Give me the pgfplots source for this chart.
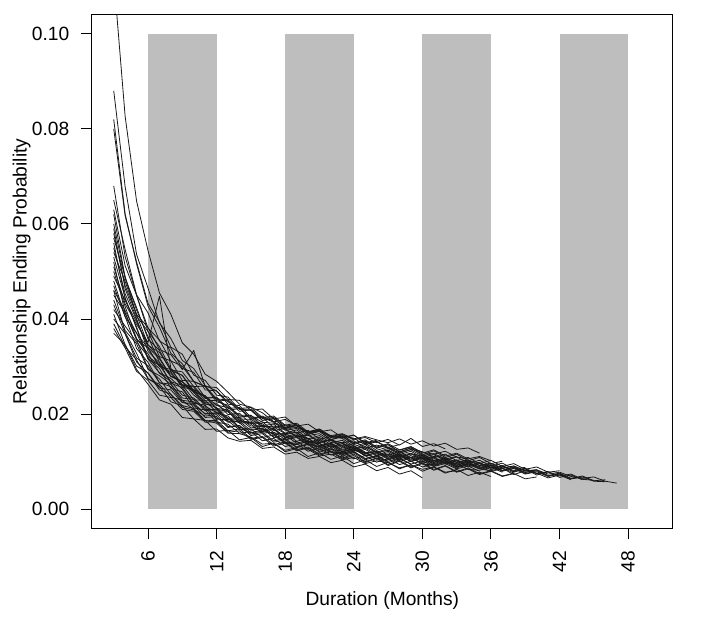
\documentclass[border=0pt]{standalone}
\usepackage{fontspec}
\setmainfont{Liberation Sans}
\usepackage{pgfplots}
\pgfplotsset{compat=1.18}
\definecolor{rectgray}{RGB}{190,190,190}
\begin{document}
\begin{tikzpicture}
\path[use as bounding box] (-92bp,-92.7bp) rectangle (628bp,528.3bp);
\begin{axis}[
  at={(0,0)}, anchor=south west,
  scale only axis, width=580.7bp, height=513.6bp,
  xmin=1.1, xmax=51.9, ymin=-0.004, ymax=0.104,
  axis line style={line width=1bp, black},
  tick style={black, line width=1bp},
  tick align=outside, major tick length=11bp,
  xtick pos=bottom, ytick pos=left,
  xtick={6,12,18,24,30,36,42,48},
  xticklabels={6,12,18,24,30,36,42,48},
  ytick={0,0.02,0.04,0.06,0.08,0.1},
  yticklabels={0.00,0.02,0.04,0.06,0.08,0.10},
  tick label style={font=\fontsize{19.2bp}{22bp}\selectfont},
  yticklabel style={anchor=east, inner sep=0pt},
  xticklabel style={rotate=90, anchor=east, inner sep=0pt},
  yticklabel shift=11.5bp,
  xticklabel shift=11.5bp,
  xlabel={Duration (Months)},
  ylabel={Relationship Ending Probability},
  label style={font=\fontsize{19.2bp}{22bp}\selectfont},
  x label style={at={(axis description cs:0.5,-0.1402)}, anchor=center},
  y label style={at={(axis description cs:-0.1211,0.5)}, anchor=center, rotate=0},
  sim/.style={black!90, line width=0.8bp, line join=round, mark=none},
]
\addplot[fill=rectgray, draw=none] coordinates {(6,0)(12,0)(12,0.1)(6,0.1)} -- cycle;
\addplot[fill=rectgray, draw=none] coordinates {(18,0)(24,0)(24,0.1)(18,0.1)} -- cycle;
\addplot[fill=rectgray, draw=none] coordinates {(30,0)(36,0)(36,0.1)(30,0.1)} -- cycle;
\addplot[fill=rectgray, draw=none] coordinates {(42,0)(48,0)(48,0.1)(42,0.1)} -- cycle;

\addplot[sim] coordinates {(3,0.112)(4,0.0826)(5,0.0648)(6,0.0544)(7,0.0455)(8,0.0410)(9,0.0350)(10,0.0326)(11,0.0284)(12,0.0269)(13,0.0246)(14,0.0221)(15,0.0215)(16,0.0203)(17,0.0184)(18,0.0189)(19,0.0176)(20,0.0162)(21,0.0168)(22,0.0151)(23,0.0154)(24,0.0149)(25,0.0136)(26,0.0142)(27,0.0129)(28,0.0124)(29,0.0131)(30,0.0120)(31,0.0116)(32,0.0122)(33,0.0110)(34,0.0106)(35,0.0111)(36,0.0102)};
\addplot[sim] coordinates {(3,0.0880)(4,0.0678)(5,0.0536)(6,0.0465)(7,0.0392)(8,0.0359)(9,0.0313)(10,0.0296)(11,0.0260)(12,0.0249)(13,0.0221)(14,0.0218)(15,0.0194)(16,0.0193)(17,0.0183)(18,0.0166)(19,0.0170)(20,0.0155)(21,0.0159)(22,0.0144)(23,0.0140)(24,0.0144)(25,0.0128)(26,0.0135)(27,0.0129)(28,0.0118)(29,0.0125)(30,0.0112)(31,0.0117)(32,0.0106)(33,0.0111)};
\addplot[sim] coordinates {(3,0.0820)(4,0.0621)(5,0.0516)(6,0.0427)(7,0.0383)(8,0.0328)(9,0.0306)(10,0.0269)(11,0.0258)(12,0.0226)(13,0.0219)(14,0.0196)(15,0.0194)(16,0.0173)(17,0.0175)(18,0.0168)(19,0.0152)(20,0.0156)(21,0.0141)(22,0.0146)(23,0.0139)(24,0.0127)(25,0.0132)(26,0.0119)(27,0.0124)(28,0.0113)(29,0.0118)(30,0.0106)(31,0.0111)(32,0.0109)(33,0.0098)(34,0.0103)(35,0.0092)(36,0.0097)(37,0.0086)(38,0.0091)(39,0.0080)(40,0.0083)};
\addplot[sim] coordinates {(3,0.0800)(4,0.0617)(5,0.0520)(6,0.0433)(7,0.0394)(8,0.0341)(9,0.0326)(10,0.0282)(11,0.0271)(12,0.0240)(13,0.0236)(14,0.0210)(15,0.0208)(16,0.0187)(17,0.0190)(18,0.0172)(19,0.0177)(20,0.0158)(21,0.0164)(22,0.0146)(23,0.0153)(24,0.0138)(25,0.0144)(26,0.0129)(27,0.0136)(28,0.0121)(29,0.0129)(30,0.0116)};
\addplot[sim] coordinates {(3,0.0680)(4,0.0531)(5,0.0450)(6,0.0374)(7,0.0342)(8,0.0295)(9,0.0281)(10,0.0246)(11,0.0239)(12,0.0210)(13,0.0206)(14,0.0181)(15,0.0183)(16,0.0164)(17,0.0168)(18,0.0150)(19,0.0156)(20,0.0138)(21,0.0145)(22,0.0130)(23,0.0135)(24,0.0119)(25,0.0126)(26,0.0112)(27,0.0119)(28,0.0106)(29,0.0113)(30,0.0100)(31,0.0108)(32,0.0095)(33,0.0102)(34,0.0089)(35,0.0096)(36,0.0083)(37,0.0091)(38,0.0078)(39,0.0085)(40,0.0072)(41,0.0079)(42,0.0067)(43,0.0072)(44,0.0062)};
\addplot[sim] coordinates {(3,0.0650)(4,0.0546)(5,0.0451)(6,0.0413)(7,0.0354)(8,0.0339)(9,0.0296)(10,0.0288)(11,0.0251)(12,0.0249)(13,0.0226)(14,0.0212)(15,0.0214)(16,0.0193)(17,0.0196)(18,0.0177)(19,0.0181)(20,0.0163)(21,0.0169)(22,0.0154)(23,0.0150)(24,0.0156)(25,0.0138)(26,0.0143)(27,0.0130)(28,0.0136)};
\addplot[sim] coordinates {(3,0.0620)(4,0.0487)(5,0.0419)(6,0.0363)(7,0.0309)(8,0.0280)(9,0.0268)(10,0.0246)(11,0.0217)(12,0.0203)(13,0.0196)(14,0.0172)(15,0.0168)(16,0.0171)(17,0.0152)(18,0.0146)(19,0.0151)(20,0.0135)(21,0.0139)(22,0.0126)(23,0.0122)(24,0.0128)(25,0.0114)(26,0.0110)(27,0.0116)(28,0.0104)(29,0.0109)(30,0.0097)(31,0.0103)(32,0.0101)(33,0.0089)(34,0.0094)(35,0.0085)(36,0.0081)(37,0.0087)(38,0.0076)};
\addplot[sim] coordinates {(3,0.0600)(4,0.0486)(5,0.0424)(6,0.0358)(7,0.0334)(8,0.0291)(9,0.0282)(10,0.0249)(11,0.0236)(12,0.0212)(13,0.0209)(14,0.0190)(15,0.0189)(16,0.0174)(17,0.0173)(18,0.0159)(19,0.0162)(20,0.0147)(21,0.0151)(22,0.0136)(23,0.0140)(24,0.0127)(25,0.0131)(26,0.0120)(27,0.0114)(28,0.0121)(29,0.0109)(30,0.0115)(31,0.0103)(32,0.0108)(33,0.0099)(34,0.0104)(35,0.0092)(36,0.0096)(37,0.0087)(38,0.0091)(39,0.0081)(40,0.0083)(41,0.0074)(42,0.0078)(43,0.0069)(44,0.0065)(45,0.0068)(46,0.0059)(47,0.0055)};
\addplot[sim] coordinates {(3,0.0590)(4,0.0464)(5,0.0401)(6,0.0332)(7,0.0308)(8,0.0265)(9,0.0256)(10,0.0223)(11,0.0219)(12,0.0191)(13,0.0186)(14,0.0167)(15,0.0169)(16,0.0151)(17,0.0156)(18,0.0138)(19,0.0143)(20,0.0127)(21,0.0134)(22,0.0120)(23,0.0116)(24,0.0121)(25,0.0107)(26,0.0113)(27,0.0101)(28,0.0108)(29,0.0095)(30,0.0102)(31,0.0090)(32,0.0096)(33,0.0085)(34,0.0091)(35,0.0080)};
\addplot[sim] coordinates {(3,0.0570)(4,0.0489)(5,0.0406)(6,0.0374)(7,0.0321)(8,0.0312)(9,0.0271)(10,0.0269)(11,0.0235)(12,0.0234)(13,0.0208)(14,0.0212)(15,0.0189)(16,0.0194)(17,0.0171)(18,0.0178)(19,0.0160)(20,0.0166)(21,0.0147)(22,0.0153)(23,0.0149)(24,0.0132)(25,0.0139)(26,0.0124)(27,0.0131)(28,0.0118)(29,0.0126)(30,0.0121)(31,0.0108)(32,0.0116)(33,0.0102)(34,0.0109)(35,0.0096)(36,0.0103)(37,0.0090)(38,0.0096)(39,0.0084)(40,0.0089)(41,0.0078)(42,0.0081)};
\addplot[sim] coordinates {(3,0.0560)(4,0.0442)(5,0.0383)(6,0.0318)(7,0.0296)(8,0.0254)(9,0.0247)(10,0.0213)(11,0.0209)(12,0.0183)(13,0.0179)(14,0.0160)(15,0.0163)(16,0.0144)(17,0.0149)(18,0.0132)(19,0.0138)(20,0.0122)(21,0.0129)(22,0.0114)(23,0.0120)(24,0.0106)(25,0.0113)(26,0.0099)(27,0.0107)(28,0.0094)(29,0.0101)(30,0.0089)(31,0.0095)};
\addplot[sim] coordinates {(3,0.0550)(4,0.0453)(5,0.0398)(6,0.0341)(7,0.0316)(8,0.0279)(9,0.0268)(10,0.0249)(11,0.0221)(12,0.0219)(13,0.0206)(14,0.0187)(15,0.0182)(16,0.0180)(17,0.0161)(18,0.0157)(19,0.0162)(20,0.0143)(21,0.0140)(22,0.0146)(23,0.0129)(24,0.0134)(25,0.0120)(26,0.0118)(27,0.0125)(28,0.0110)(29,0.0116)(30,0.0113)(31,0.0101)(32,0.0106)(33,0.0095)(34,0.0101)(35,0.0098)(36,0.0087)(37,0.0092)(38,0.0081)(39,0.0086)(40,0.0075)(41,0.0079)(42,0.0070)(43,0.0074)(44,0.0063)(45,0.0061)};
\addplot[sim] coordinates {(3,0.0540)(4,0.0479)(5,0.0410)(6,0.0382)(7,0.0336)(8,0.0325)(9,0.0294)(10,0.0334)(11,0.0258)(12,0.0256)(13,0.0231)(14,0.0229)(15,0.0208)(16,0.0211)(17,0.0190)(18,0.0194)(19,0.0175)(20,0.0179)(21,0.0163)(22,0.0167)(23,0.0151)(24,0.0156)(25,0.0140)(26,0.0145)};
\addplot[sim] coordinates {(3,0.0530)(4,0.0445)(5,0.0380)(6,0.0316)(7,0.0287)(8,0.0275)(9,0.0253)(10,0.0220)(11,0.0201)(12,0.0203)(13,0.0192)(14,0.0170)(15,0.0161)(16,0.0167)(17,0.0159)(18,0.0140)(19,0.0137)(20,0.0142)(21,0.0138)(22,0.0121)(23,0.0118)(24,0.0124)(25,0.0120)(26,0.0106)(27,0.0104)(28,0.0111)(29,0.0108)(30,0.0095)(31,0.0093)(32,0.0099)(33,0.0096)(34,0.0084)(35,0.0082)(36,0.0088)(37,0.0078)};
\addplot[sim] coordinates {(3,0.0520)(4,0.0412)(5,0.0357)(6,0.0296)(7,0.0274)(8,0.0241)(9,0.0218)(10,0.0212)(11,0.0187)(12,0.0181)(13,0.0160)(14,0.0159)(15,0.0152)(16,0.0137)(17,0.0139)(18,0.0124)(19,0.0130)(20,0.0126)(21,0.0112)(22,0.0116)(23,0.0104)(24,0.0109)(25,0.0096)(26,0.0102)(27,0.0098)(28,0.0087)(29,0.0093)(30,0.0084)(31,0.0089)(32,0.0078)(33,0.0081)};
\addplot[sim] coordinates {(3,0.0510)(4,0.0432)(5,0.0389)(6,0.0351)(7,0.0448)(8,0.0296)(9,0.0261)(10,0.0257)(11,0.0228)(12,0.0229)(13,0.0216)(14,0.0193)(15,0.0198)(16,0.0176)(17,0.0179)(18,0.0160)(19,0.0167)(20,0.0148)(21,0.0155)(22,0.0140)(23,0.0145)(24,0.0128)(25,0.0136)(26,0.0120)(27,0.0128)(28,0.0115)(29,0.0122)(30,0.0108)(31,0.0115)(32,0.0103)(33,0.0110)(34,0.0097)(35,0.0103)(36,0.0091)(37,0.0097)(38,0.0085)(39,0.0088)};
\addplot[sim] coordinates {(3,0.0500)(4,0.0426)(5,0.0359)(6,0.0327)(7,0.0286)(8,0.0269)(9,0.0240)(10,0.0234)(11,0.0210)(12,0.0209)(13,0.0185)(14,0.0186)(15,0.0179)(16,0.0160)(17,0.0162)(18,0.0147)(19,0.0153)(20,0.0136)(21,0.0132)(22,0.0138)(23,0.0121)(24,0.0127)(25,0.0113)(26,0.0119)(27,0.0107)(28,0.0114)(29,0.0101)(30,0.0108)(31,0.0096)(32,0.0103)(33,0.0090)(34,0.0097)(35,0.0085)(36,0.0091)(37,0.0080)(38,0.0086)(39,0.0074)(40,0.0079)(41,0.0069)(42,0.0074)(43,0.0064)(44,0.0068)(45,0.0059)(46,0.0058)};
\addplot[sim] coordinates {(3,0.0490)(4,0.0439)(5,0.0394)(6,0.0345)(7,0.0330)(8,0.0293)(9,0.0289)(10,0.0258)(11,0.0259)(12,0.0232)(13,0.0230)(14,0.0211)(15,0.0210)(16,0.0191)(17,0.0193)(18,0.0175)(19,0.0178)(20,0.0161)(21,0.0166)(22,0.0151)(23,0.0156)(24,0.0140)(25,0.0146)(26,0.0131)(27,0.0138)(28,0.0125)(29,0.0132)(30,0.0118)(31,0.0125)(32,0.0112)(33,0.0118)(34,0.0106)};
\addplot[sim] coordinates {(3,0.0480)(4,0.0406)(5,0.0338)(6,0.0309)(7,0.0266)(8,0.0258)(9,0.0225)(10,0.0219)(11,0.0193)(12,0.0195)(13,0.0172)(14,0.0176)(15,0.0155)(16,0.0159)(17,0.0141)(18,0.0146)(19,0.0130)(20,0.0136)(21,0.0120)(22,0.0127)(23,0.0112)(24,0.0119)(25,0.0104)(26,0.0111)(27,0.0098)(28,0.0106)(29,0.0095)};
\addplot[sim] coordinates {(3,0.0470)(4,0.0404)(5,0.0371)(6,0.0316)(7,0.0303)(8,0.0268)(9,0.0261)(10,0.0230)(11,0.0229)(12,0.0204)(13,0.0205)(14,0.0183)(15,0.0186)(16,0.0167)(17,0.0170)(18,0.0152)(19,0.0159)(20,0.0140)(21,0.0148)(22,0.0131)(23,0.0138)(24,0.0122)(25,0.0129)(26,0.0114)(27,0.0122)(28,0.0108)(29,0.0117)(30,0.0103)(31,0.0110)(32,0.0097)(33,0.0104)(34,0.0091)(35,0.0098)(36,0.0086)(37,0.0092)(38,0.0079)(39,0.0086)(40,0.0075)(41,0.0079)};
\addplot[sim] coordinates {(3,0.0460)(4,0.0372)(5,0.0328)(6,0.0275)(7,0.0259)(8,0.0226)(9,0.0218)(10,0.0190)(11,0.0187)(12,0.0164)(13,0.0166)(14,0.0146)(15,0.0151)(16,0.0132)(17,0.0139)(18,0.0121)(19,0.0128)(20,0.0111)(21,0.0119)(22,0.0105)(23,0.0112)(24,0.0096)(25,0.0104)(26,0.0090)(27,0.0099)(28,0.0085)(29,0.0094)(30,0.0080)(31,0.0089)(32,0.0076)(33,0.0084)(34,0.0071)(35,0.0078)(36,0.0069)};
\addplot[sim] coordinates {(3,0.0450)(4,0.0413)(5,0.0357)(6,0.0339)(7,0.0300)(8,0.0294)(9,0.0262)(10,0.0259)(11,0.0233)(12,0.0236)(13,0.0212)(14,0.0214)(15,0.0191)(16,0.0196)(17,0.0184)(18,0.0171)(19,0.0176)(20,0.0162)(21,0.0165)(22,0.0153)(23,0.0158)(24,0.0146)(25,0.0151)(26,0.0140)(27,0.0147)(28,0.0135)(29,0.0149)(30,0.0132)(31,0.0138)(32,0.0127)};
\addplot[sim] coordinates {(3,0.0440)(4,0.0376)(5,0.0348)(6,0.0294)(7,0.0281)(8,0.0263)(9,0.0229)(10,0.0226)(11,0.0214)(12,0.0188)(13,0.0189)(14,0.0182)(15,0.0161)(16,0.0164)(17,0.0159)(18,0.0141)(19,0.0136)(20,0.0143)(21,0.0125)(22,0.0134)(23,0.0116)(24,0.0125)(25,0.0119)(26,0.0105)(27,0.0114)(28,0.0100)(29,0.0109)(30,0.0106)(31,0.0091)(32,0.0099)(33,0.0087)(34,0.0095)(35,0.0090)(36,0.0079)(37,0.0086)(38,0.0073)(39,0.0081)(40,0.0076)(41,0.0066)(42,0.0072)(43,0.0062)};
\addplot[sim] coordinates {(3,0.0430)(4,0.0369)(5,0.0310)(6,0.0286)(7,0.0251)(8,0.0242)(9,0.0214)(10,0.0209)(11,0.0186)(12,0.0187)(13,0.0165)(14,0.0169)(15,0.0149)(16,0.0153)(17,0.0136)(18,0.0142)(19,0.0125)(20,0.0131)(21,0.0116)(22,0.0123)(23,0.0108)(24,0.0116)(25,0.0100)(26,0.0108)(27,0.0094)(28,0.0103)(29,0.0089)(30,0.0098)(31,0.0084)(32,0.0092)(33,0.0079)(34,0.0087)(35,0.0075)(36,0.0081)(37,0.0070)(38,0.0076)};
\addplot[sim] coordinates {(3,0.0420)(4,0.0385)(5,0.0352)(6,0.0321)(7,0.0304)(8,0.0286)(9,0.0260)(10,0.0252)(11,0.0238)(12,0.0219)(13,0.0214)(14,0.0198)(15,0.0197)(16,0.0183)(17,0.0181)(18,0.0170)(19,0.0172)(20,0.0161)(21,0.0164)(22,0.0155)(23,0.0159)(24,0.0148)(25,0.0153)(26,0.0146)(27,0.0140)(28,0.0148)(29,0.0137)(30,0.0144)(31,0.0133)(32,0.0139)(33,0.0126)(34,0.0129)(35,0.0118)};
\addplot[sim] coordinates {(3,0.0410)(4,0.0346)(5,0.0294)(6,0.0263)(7,0.0230)(8,0.0221)(9,0.0193)(10,0.0190)(11,0.0168)(12,0.0169)(13,0.0150)(14,0.0143)(15,0.0145)(16,0.0128)(17,0.0131)(18,0.0116)(19,0.0120)(20,0.0107)(21,0.0111)(22,0.0098)(23,0.0103)(24,0.0089)(25,0.0095)(26,0.0081)(27,0.0088)(28,0.0074)(29,0.0081)(30,0.0066)};
\addplot[sim] coordinates {(3,0.0400)(4,0.0369)(5,0.0318)(6,0.0302)(7,0.0266)(8,0.0263)(9,0.0234)(10,0.0231)(11,0.0207)(12,0.0211)(13,0.0189)(14,0.0190)(15,0.0171)(16,0.0175)(17,0.0156)(18,0.0160)(19,0.0143)(20,0.0149)(21,0.0133)(22,0.0139)(23,0.0124)(24,0.0130)(25,0.0116)(26,0.0122)(27,0.0109)(28,0.0116)(29,0.0103)(30,0.0110)(31,0.0098)(32,0.0105)(33,0.0092)(34,0.0099)(35,0.0086)(36,0.0093)(37,0.0081)(38,0.0088)(39,0.0075)(40,0.0081)(41,0.0070)(42,0.0075)(43,0.0064)(44,0.0068)};
\addplot[sim] coordinates {(3,0.0390)(4,0.0342)(5,0.0314)(6,0.0274)(7,0.0263)(8,0.0236)(9,0.0229)(10,0.0210)(11,0.0196)(12,0.0199)(13,0.0174)(14,0.0176)(15,0.0158)(16,0.0162)(17,0.0144)(18,0.0149)(19,0.0131)(20,0.0138)(21,0.0122)(22,0.0129)(23,0.0115)(24,0.0121)(25,0.0106)(26,0.0113)(27,0.0100)};
\addplot[sim] coordinates {(3,0.0380)(4,0.0339)(5,0.0290)(6,0.0271)(7,0.0240)(8,0.0235)(9,0.0210)(10,0.0206)(11,0.0183)(12,0.0184)(13,0.0162)(14,0.0165)(15,0.0147)(16,0.0151)(17,0.0133)(18,0.0139)(19,0.0123)(20,0.0129)(21,0.0114)(22,0.0121)(23,0.0106)(24,0.0113)(25,0.0098)(26,0.0107)(27,0.0092)(28,0.0101)(29,0.0087)(30,0.0096)(31,0.0082)(32,0.0091)(33,0.0078)(34,0.0085)(35,0.0073)(36,0.0080)(37,0.0069)(38,0.0075)(39,0.0064)(40,0.0068)};
\addplot[sim] coordinates {(3,0.0370)(4,0.0346)(5,0.0301)(6,0.0287)(7,0.0255)(8,0.0251)(9,0.0224)(10,0.0223)(11,0.0200)(12,0.0202)(13,0.0183)(14,0.0185)(15,0.0166)(16,0.0170)(17,0.0151)(18,0.0156)(19,0.0139)(20,0.0145)(21,0.0129)(22,0.0136)(23,0.0120)(24,0.0127)(25,0.0112)(26,0.0119)(27,0.0105)(28,0.0113)(29,0.0100)(30,0.0108)(31,0.0094)(32,0.0102)(33,0.0089)(34,0.0096)};
\addplot[sim] coordinates {(3,0.0460)(4,0.0418)(5,0.0370)(6,0.0339)(7,0.0301)(8,0.0289)(9,0.0257)(10,0.0251)(11,0.0224)(12,0.0223)(13,0.0199)(14,0.0202)(15,0.0180)(16,0.0184)(17,0.0165)(18,0.0170)(19,0.0152)(20,0.0158)(21,0.0141)(22,0.0147)(23,0.0132)(24,0.0138)};
\addplot[sim] coordinates {(3,0.0580)(4,0.0470)(5,0.0409)(6,0.0346)(7,0.0319)(8,0.0280)(9,0.0269)(10,0.0240)(11,0.0222)(12,0.0214)(13,0.0191)(14,0.0193)(15,0.0175)(16,0.0176)(17,0.0169)(18,0.0151)(19,0.0155)(20,0.0149)(21,0.0134)(22,0.0139)(23,0.0126)(24,0.0132)(25,0.0117)(26,0.0123)(27,0.0110)(28,0.0117)(29,0.0105)(30,0.0112)(31,0.0099)(32,0.0106)(33,0.0093)(34,0.0100)(35,0.0088)(36,0.0094)(37,0.0082)(38,0.0089)(39,0.0077)(40,0.0083)(41,0.0071)(42,0.0076)(43,0.0065)(44,0.0070)(45,0.0060)(46,0.0062)};
\addplot[sim] coordinates {(3,0.0630)(4,0.0512)(5,0.0450)(6,0.0381)(7,0.0356)(8,0.0312)(9,0.0301)(10,0.0268)(11,0.0259)(12,0.0230)(13,0.0228)(14,0.0206)(15,0.0209)(16,0.0187)(17,0.0191)(18,0.0170)(19,0.0176)(20,0.0158)(21,0.0164)(22,0.0147)(23,0.0153)(24,0.0136)(25,0.0143)(26,0.0128)(27,0.0136)(28,0.0120)(29,0.0129)(30,0.0114)(31,0.0123)(32,0.0109)(33,0.0116)(34,0.0102)(35,0.0109)(36,0.0096)(37,0.0101)};
\end{axis}
\end{tikzpicture}
\end{document}
